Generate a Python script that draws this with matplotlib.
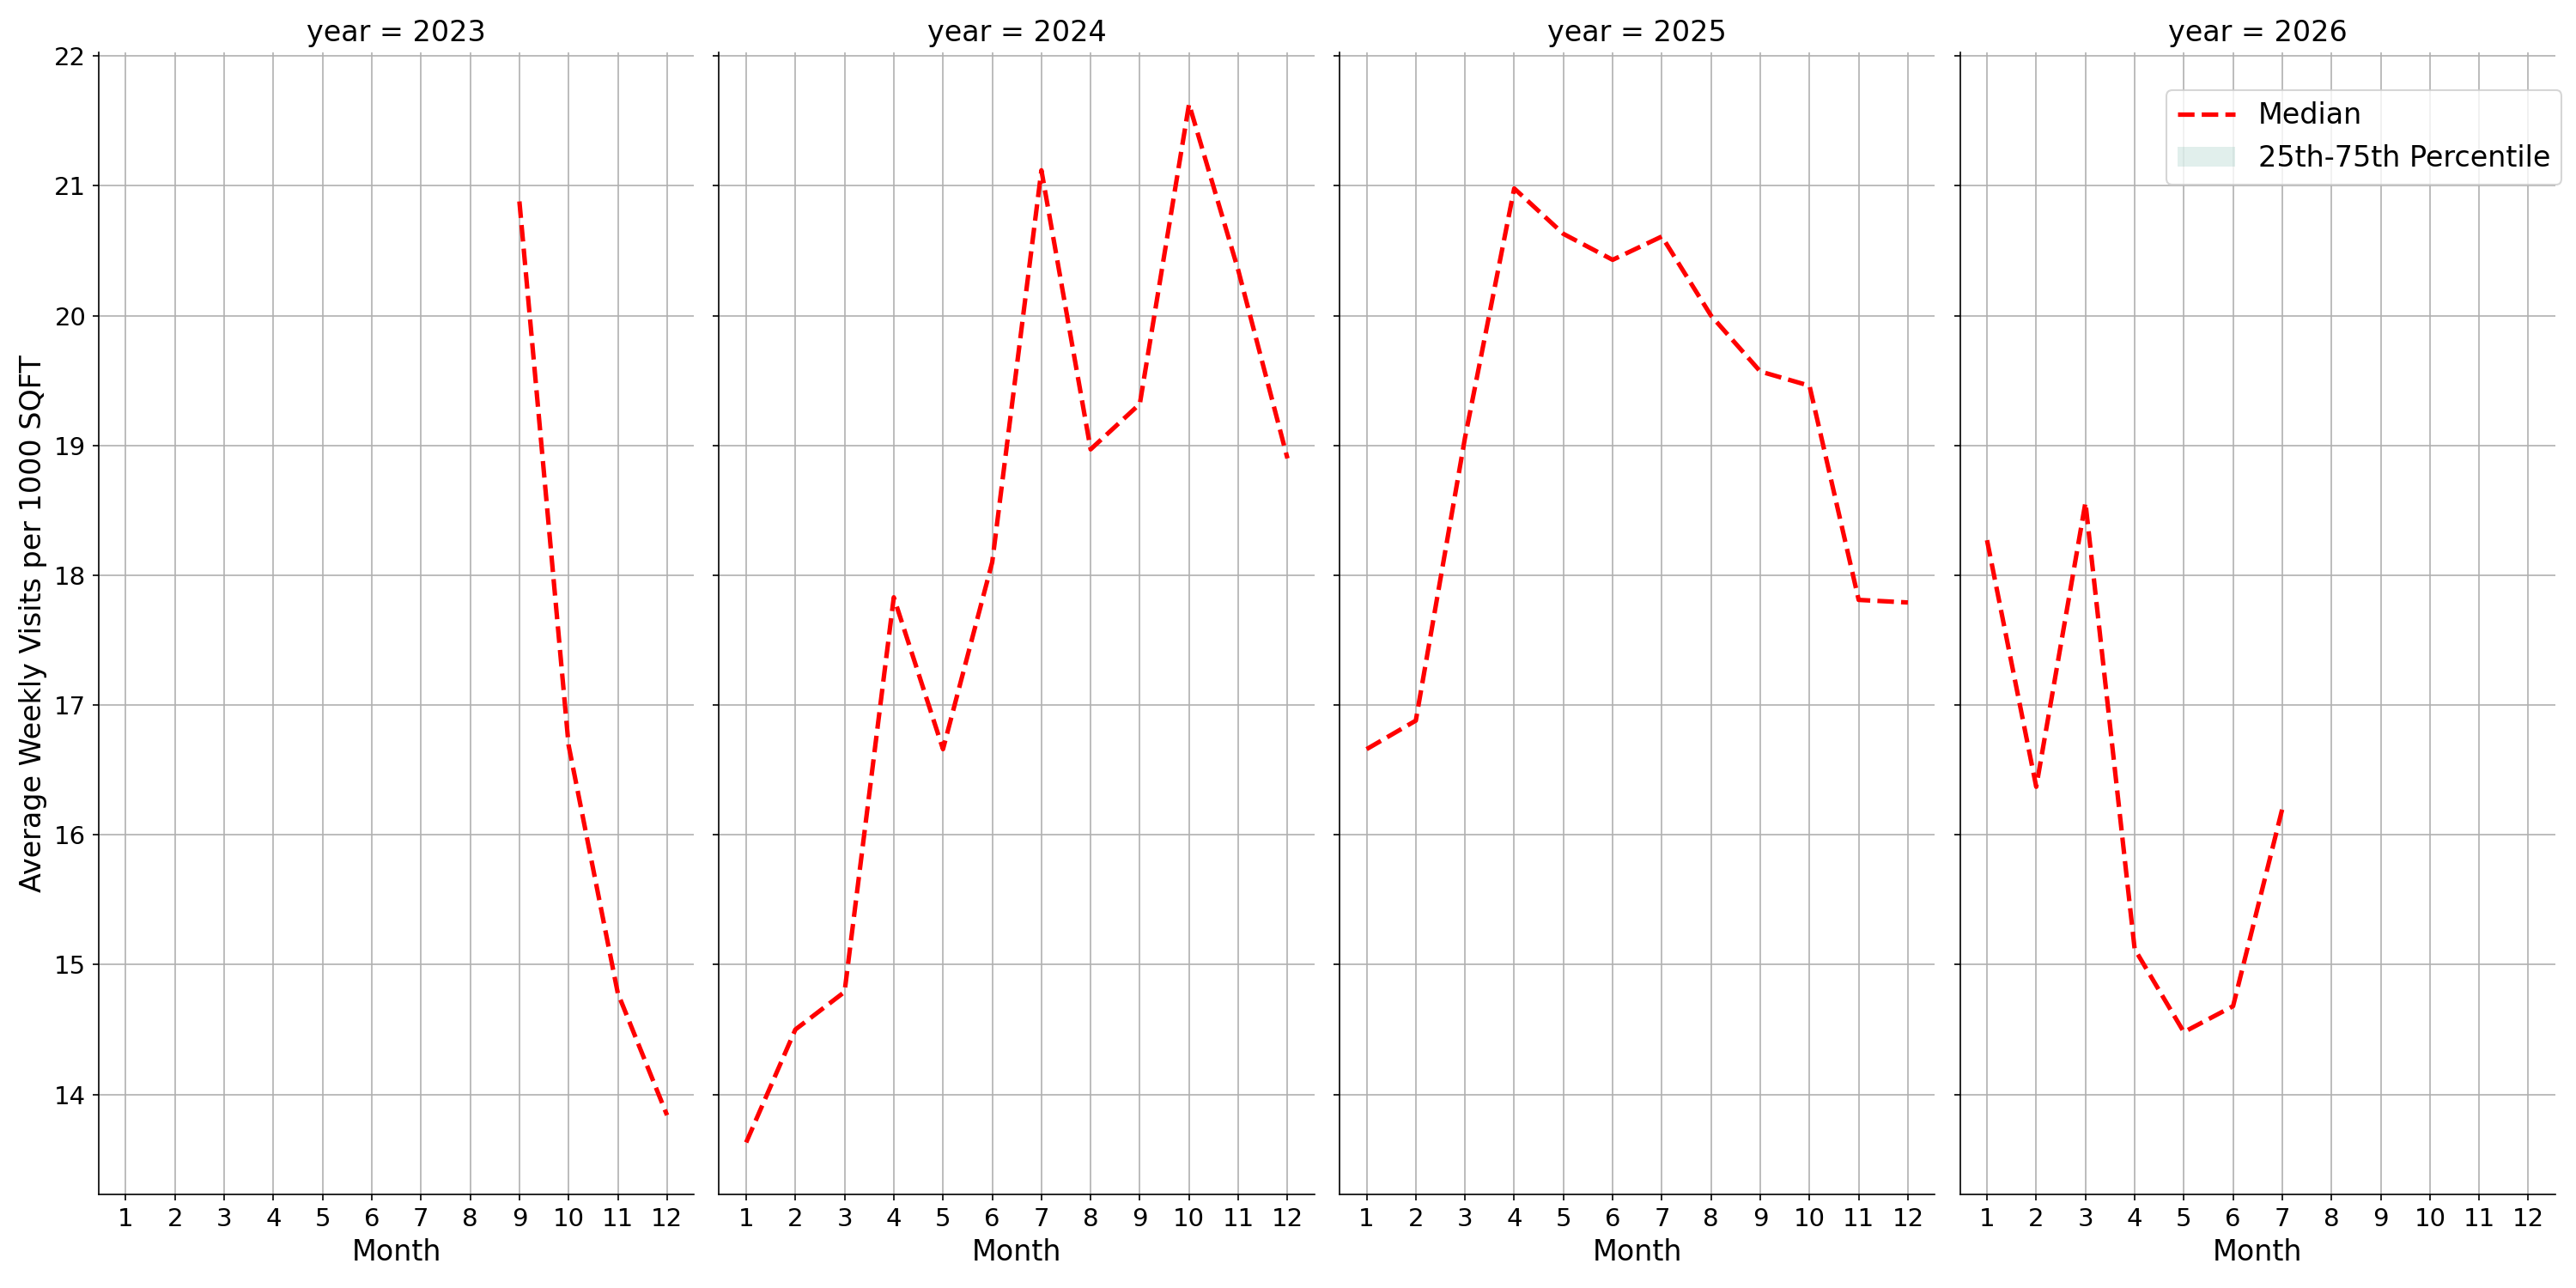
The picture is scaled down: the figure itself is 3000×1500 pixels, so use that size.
import matplotlib
matplotlib.use("Agg")
import matplotlib.pyplot as plt
import numpy as np

# median of weekly visits per 1000 sqft, by year and month
years = [2023, 2024, 2025, 2026]
months_2023 = [9, 10, 11, 12]
median_2023 = [20.88, 16.69, 14.78, 13.84]
months_2024 = [1, 2, 3, 4, 5, 6, 7, 8, 9, 10, 11, 12]
median_2024 = [13.63, 14.50, 14.79, 17.83, 16.66, 18.10, 21.12, 18.97, 19.32, 21.63, 20.35, 18.90]
months_2025 = [1, 2, 3, 4, 5, 6, 7, 8, 9, 10, 11, 12]
median_2025 = [16.66, 16.88, 19.06, 20.98, 20.63, 20.43, 20.61, 20.00, 19.57, 19.46, 17.81, 17.79]
months_2026 = [1, 2, 3, 4, 5, 6, 7]
median_2026 = [18.27, 16.37, 18.56, 15.12, 14.48, 14.68, 16.20]

month_ticks = list(range(1, 13))

data = {
    2023: (months_2023, median_2023),
    2024: (months_2024, median_2024),
    2025: (months_2025, median_2025),
    2026: (months_2026, median_2026),
}

fig, axes = plt.subplots(1, 4, figsize=(20, 10), dpi=150, sharex=True, sharey=True)

for ax, yr in zip(axes, years):
    m, med = data[yr]
    med = np.array(med)
    # the percentile band is flat here (same as median), so it shows nothing
    ax.fill_between(m, med, med, color="#69b3a2", alpha=0.2, linewidth=0,
                    label="25th-75th Percentile")
    ax.plot(m, med, color="red", linestyle="--", linewidth=2.5, label="Median")
    ax.set_title(f"year = {yr}", fontsize=16)
    ax.set_xlabel("Month", fontsize=16)
    ax.set_xticks(month_ticks)
    ax.tick_params(labelsize=14)
    ax.grid(True)
    ax.spines["top"].set_visible(False)
    ax.spines["right"].set_visible(False)

axes[0].set_ylabel("Average Weekly Visits per 1000 SQFT", fontsize=16)

handles, labels = axes[-1].get_legend_handles_labels()
order = [labels.index("Median"), labels.index("25th-75th Percentile")]
fig.legend([handles[i] for i in order], [labels[i] for i in order],
           loc="upper right", bbox_to_anchor=(1.0, 0.941), fontsize=16)

fig.subplots_adjust(left=0.0383, right=0.992, top=0.9595, bottom=0.0727, wspace=0.042)
fig.savefig("out.png")
